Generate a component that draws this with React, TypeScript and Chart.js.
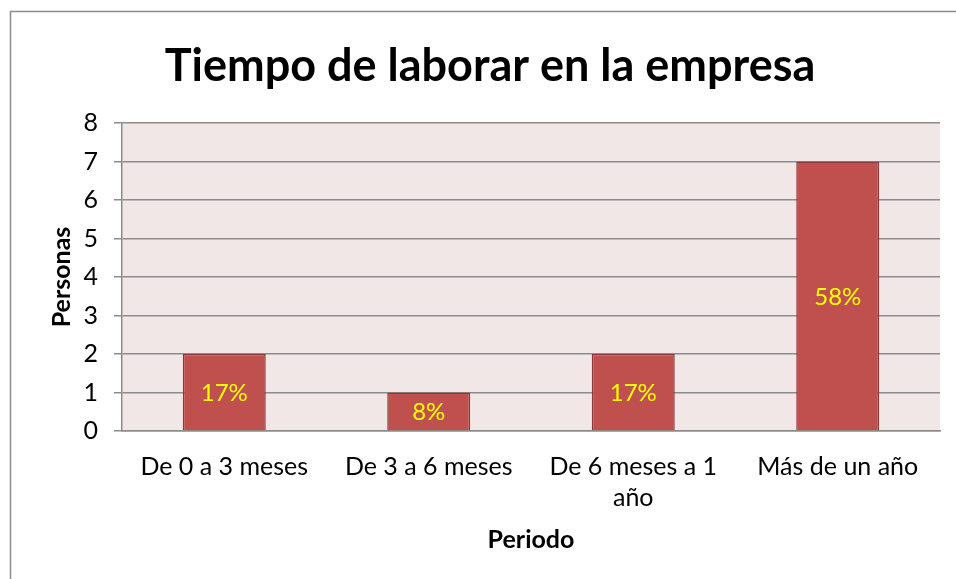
import React, { useEffect, useRef } from "react";
import { Chart, registerables } from "chart.js";

Chart.register(...registerables);

const categories: (string | string[])[] = [
  "De 0 a 3 meses",
  "De 3 a 6 meses",
  ["De 6 meses a 1", "año"],
  "Más de un año",
];
const personas = [2, 1, 2, 7];
const yTicks = [0, 1, 2, 3, 4, 5, 6, 7, 8];
const titleText = "Tiempo de laborar en la empresa";
const xTitle = "Periodo";
const yTitle = "Personas";

const FONT = "Lato, 'Open Sans', sans-serif";

const frame = {
  id: "frame",
  beforeDraw(chart: any) {
    const { ctx, chartArea } = chart;
    ctx.save();
    ctx.fillStyle = "#ffffff";
    ctx.fillRect(0, 0, chart.width, chart.height);
    ctx.strokeStyle = "#8c8c8c";
    ctx.lineWidth = 1.5;
    ctx.strokeRect(10.5, 11.5, 1200, 1200);
    ctx.fillStyle = "#F2E7E7";
    ctx.fillRect(chartArea.left, chartArea.top, chartArea.right - chartArea.left, chartArea.bottom - chartArea.top);
    ctx.restore();
  },
};

const pctLabels = {
  id: "pctLabels",
  afterDatasetsDraw(chart: any) {
    const { ctx } = chart;
    const data = chart.data.datasets[0].data as number[];
    const total = data.reduce((a, b) => a + b, 0);
    const meta = chart.getDatasetMeta(0);
    ctx.save();
    ctx.fillStyle = "#FFFF00";
    ctx.font = `24px ${FONT}`;
    ctx.textAlign = "center";
    ctx.textBaseline = "middle";
    meta.data.forEach((bar: any, i: number) => {
      const pct = Math.round((data[i] / total) * 100) + "%";
      ctx.fillText(pct, bar.x, (bar.y + bar.base) / 2 + 1);
    });
    ctx.restore();
  },
};

export default function App() {
  const ref = useRef<HTMLCanvasElement | null>(null);
  useEffect(() => {
    document.body.style.margin = "0";
    const chart = new Chart(ref.current!, {
      type: "bar",
      data: {
        labels: categories,
        datasets: [
          {
            data: personas,
            backgroundColor: "#C0504D",
            borderColor: "#8C3A38",
            borderWidth: 1.5,
            categoryPercentage: 1,
            barPercentage: 0.406,
          },
        ],
      },
      options: {
        animation: false,
        responsive: false,
        layout: { padding: { left: 40, right: 16, top: 0, bottom: 0 } },
        plugins: {
          legend: { display: false },
          tooltip: { enabled: false },
          title: {
            display: true,
            text: titleText,
            color: "#000",
            font: { family: FONT, size: 45, weight: "bold", lineHeight: 1.2 },
            padding: { top: 39, bottom: 30 },
          },
        },
        scales: {
          x: {
            grid: { display: false },
            border: { display: true, color: "#8c8c8c", width: 1.5 },
            ticks: {
              color: "#000",
              font: { family: FONT, size: 25, lineHeight: 1.26 },
              padding: 12,
              maxRotation: 0,
              autoSkip: false,
            },
            title: {
              display: true,
              text: xTitle,
              color: "#000",
              font: { family: FONT, size: 25, weight: "bold", lineHeight: 1.2 },
              padding: { top: 0, bottom: 24 },
            },
            afterFit(scale: any) {
              scale.height = 579 - 431;
            },
          },
          y: {
            min: 0,
            max: 8,
            afterBuildTicks(scale: any) {
              scale.ticks = yTicks.map((v) => ({ value: v }));
            },
            grid: { color: "#8c8c8c", lineWidth: 1.5, tickLength: 8, drawOnChartArea: true },
            border: { display: true, color: "#8c8c8c", width: 1.5 },
            ticks: {
              color: "#000",
              font: { family: FONT, size: 25 },
              padding: 16,
            },
            title: {
              display: true,
              text: yTitle,
              color: "#000",
              font: { family: FONT, size: 25, weight: "bold", lineHeight: 1.2 },
              padding: { top: 7, bottom: 0 },
            },
            afterFit(scale: any) {
              scale.width = 122 - 40;
            },
          },
        },
      },
      plugins: [frame, pctLabels],
    });
    return () => chart.destroy();
  }, []);
  return (
    <div style={{ position: "absolute", left: 0, top: 0, width: 956, height: 579 }}>
      <canvas ref={ref} width={956} height={579} style={{ width: 956, height: 579 }} />
    </div>
  );
}
